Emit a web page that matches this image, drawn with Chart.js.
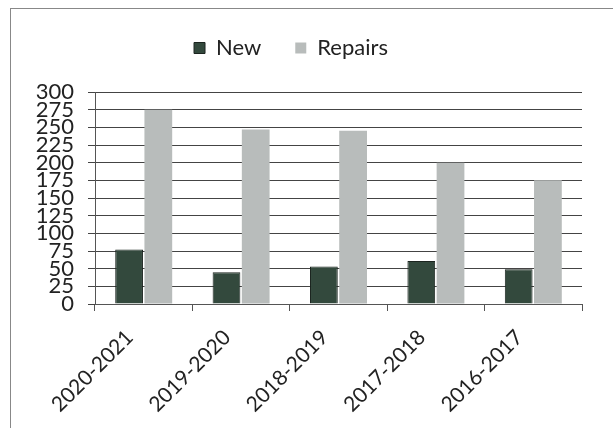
<!DOCTYPE html>
<html>
<head>
<meta charset="utf-8">
<script src="https://cdn.jsdelivr.net/npm/chart.js@4/dist/chart.umd.min.js"></script>
<style>
  html, body { margin: 0; padding: 0; background: #fff; overflow: hidden; }
  #wrap { position: relative; width: 613px; height: 428px; }
  #frame { position: absolute; left: 10px; top: 8px; width: 640px; height: 460px; border: 1px solid #888; box-sizing: border-box; }
  canvas { position: absolute; left: 0; top: 0; }
</style>
</head>
<body>
<div id="wrap">
  <div id="frame"></div>
  <canvas id="c" width="613" height="428"></canvas>
</div>
<script>
const categories = ["2020-2021", "2019-2020", "2018-2019", "2017-2018", "2016-2017"];
const newValues = [77, 45, 53, 61, 49];
const repairsValues = [275, 247, 245, 200, 175];
const yTicks = [0, 25, 50, 75, 100, 125, 150, 175, 200, 225, 250, 275, 300];

const FONT = "Lato, 'Open Sans', sans-serif";
const NARROW = "'Liberation Sans Narrow', Lato, sans-serif";

const legendMargin = {
  id: 'legendMargin',
  beforeInit(chart) {
    const fit = chart.legend.fit;
    chart.legend.fit = function () { fit.bind(chart.legend)(); this.height += 23; };
  }
};

new Chart(document.getElementById('c'), {
  type: 'bar',
  data: {
    labels: categories,
    datasets: [
      { label: 'New', data: newValues, backgroundColor: '#33493d', borderColor: '#1b241f', borderWidth: 1 },
      { label: 'Repairs', data: repairsValues, backgroundColor: '#b8bcbb', borderColor: '#b8bcbb', borderWidth: 0 }
    ]
  },
  plugins: [legendMargin],
  options: {
    responsive: false,
    animation: false,
    layout: { padding: { top: 3, right: 31, left: 0, bottom: 0 } },
    plugins: {
      legend: {
        position: 'top',
        labels: {
          font: { family: FONT, size: 22 },
          color: '#222',
          boxWidth: 11,
          boxHeight: 11,
          padding: 34
        }
      },
      tooltip: { enabled: false }
    },
    datasets: { bar: { categoryPercentage: 0.6, barPercentage: 0.95 } },
    scales: {
      x: {
        grid: { display: true, drawOnChartArea: false, offset: true, tickLength: 7, color: '#555' },
        border: { color: '#555' },
        ticks: { font: { family: FONT, size: 21 }, color: '#222', minRotation: 45, maxRotation: 45, padding: 14, labelOffset: -14 },
        afterFit: s => { s.height = 428 - 304; }
      },
      y: {
        min: 0, max: 300,
        afterBuildTicks: s => { s.ticks = yTicks.map(v => ({ value: v })); },
        grid: { color: '#444', tickLength: 7 },
        border: { color: '#555' },
        ticks: { autoSkip: false, font: { family: NARROW, size: 22, lineHeight: 0.8 }, color: '#222', padding: 14 },
        afterFit: s => { s.width = 95; }
      }
    }
  }
});
</script>
</body>
</html>
